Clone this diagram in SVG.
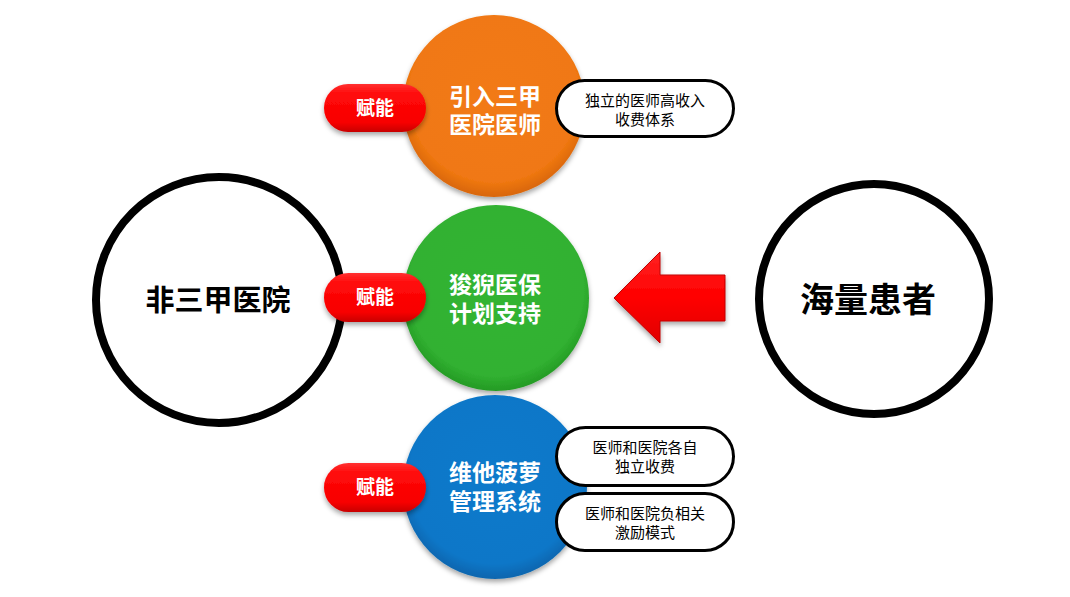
<svg xmlns="http://www.w3.org/2000/svg" width="1070" height="597" viewBox="0 0 1070 597">
<style>
.big{fill:#fff;stroke:#000;stroke-width:8}
.bigt{font-family:"Liberation Sans","Noto Sans CJK SC",sans-serif;font-weight:bold;fill:#000;text-anchor:middle;dominant-baseline:central}
.ct{font-family:"Liberation Sans","Noto Sans CJK SC",sans-serif;font-weight:bold;font-size:23px;fill:#fff;text-anchor:middle;dominant-baseline:central}
.pt{font-family:"Liberation Sans","Noto Sans CJK SC",sans-serif;font-weight:bold;font-size:19px;fill:#fff;text-anchor:middle;dominant-baseline:central}
.wp{fill:#fff;stroke:#000;stroke-width:3}
.wt{font-family:"Liberation Sans","Noto Sans CJK SC",sans-serif;font-size:15px;fill:#000;text-anchor:middle;dominant-baseline:central}
.red{fill:url(#gRed);filter:url(#sh)}
</style>
<defs>
<filter id="sh" x="-20%" y="-20%" width="140%" height="150%">
<feDropShadow dx="0" dy="3" stdDeviation="2.5" flood-color="#000" flood-opacity="0.35"/>
</filter>
<radialGradient id="gOr" cx="50%" cy="45%" r="55%">
<stop offset="0" stop-color="#F27A14"/><stop offset="0.85" stop-color="#F07812"/><stop offset="1" stop-color="#D8660A"/>
</radialGradient>
<radialGradient id="gGr" cx="50%" cy="45%" r="55%">
<stop offset="0" stop-color="#33B433"/><stop offset="0.85" stop-color="#31B131"/><stop offset="1" stop-color="#249A24"/>
</radialGradient>
<radialGradient id="gBl" cx="50%" cy="45%" r="55%">
<stop offset="0" stop-color="#0C7ACB"/><stop offset="0.85" stop-color="#0A77C8"/><stop offset="1" stop-color="#0865AE"/>
</radialGradient>
<linearGradient id="gRed" x1="0" y1="0" x2="0" y2="1">
<stop offset="0" stop-color="#FF3030"/><stop offset="0.2" stop-color="#FF0A0A"/><stop offset="0.8" stop-color="#F80000"/><stop offset="1" stop-color="#C80000"/>
</linearGradient>
<linearGradient id="gArr" x1="0" y1="0" x2="0" y2="1">
<stop offset="0" stop-color="#FF2222"/><stop offset="0.5" stop-color="#FF0000"/><stop offset="1" stop-color="#E00000"/>
</linearGradient>
</defs>

<g id="connectors">
<polygon points="614,298 660,252 660,275 725,275 725,321 660,321 660,343" fill="url(#gArr)" stroke="#C00000" stroke-width="1" filter="url(#sh)"/>
</g>

<g id="node-left">
<circle class="big" cx="219" cy="300" r="123"/>
<text class="bigt" x="218" y="301" font-size="29">非三甲医院</text>
</g>

<g id="node-right">
<circle class="big" cx="874" cy="299" r="115"/>
<text class="bigt" x="868" y="300" font-size="34">海量患者</text>
</g>

<g id="node-orange">
<circle cx="494" cy="106" r="91" fill="url(#gOr)" filter="url(#sh)"/>
<text class="ct" x="495" y="97">引入三甲</text>
<text class="ct" x="495" y="125">医院医师</text>
</g>

<g id="node-green">
<circle cx="496" cy="298" r="93" fill="url(#gGr)" filter="url(#sh)"/>
<text class="ct" x="495" y="285">狻猊医保</text>
<text class="ct" x="495" y="314">计划支持</text>
</g>

<g id="node-blue">
<circle cx="495" cy="487" r="92" fill="url(#gBl)" filter="url(#sh)"/>
<text class="ct" x="495" y="473">维他菠萝</text>
<text class="ct" x="495" y="502">管理系统</text>
</g>

<g id="pill-top">
<rect class="red" x="324" y="84" width="102" height="48" rx="24"/>
<text class="pt" x="375" y="108">赋能</text>
</g>
<g id="pill-mid">
<rect class="red" x="324" y="273" width="102" height="49" rx="24.5"/>
<text class="pt" x="375" y="297">赋能</text>
</g>
<g id="pill-bot">
<rect class="red" x="324" y="463" width="102" height="49" rx="24.5"/>
<text class="pt" x="375" y="487">赋能</text>
</g>

<g id="note-top">
<rect class="wp" x="556.5" y="80.5" width="177" height="56" rx="28"/>
<text class="wt" x="645" y="100">独立的医师高收入</text>
<text class="wt" x="645" y="119">收费体系</text>
</g>
<g id="note-bot1">
<rect class="wp" x="556.5" y="427.5" width="177" height="58" rx="29"/>
<text class="wt" x="645" y="447">医师和医院各自</text>
<text class="wt" x="645" y="466">独立收费</text>
</g>
<g id="note-bot2">
<rect class="wp" x="556.5" y="493.5" width="177" height="57" rx="28.5"/>
<text class="wt" x="645" y="513">医师和医院负相关</text>
<text class="wt" x="645" y="532">激励模式</text>
</g>
</svg>
